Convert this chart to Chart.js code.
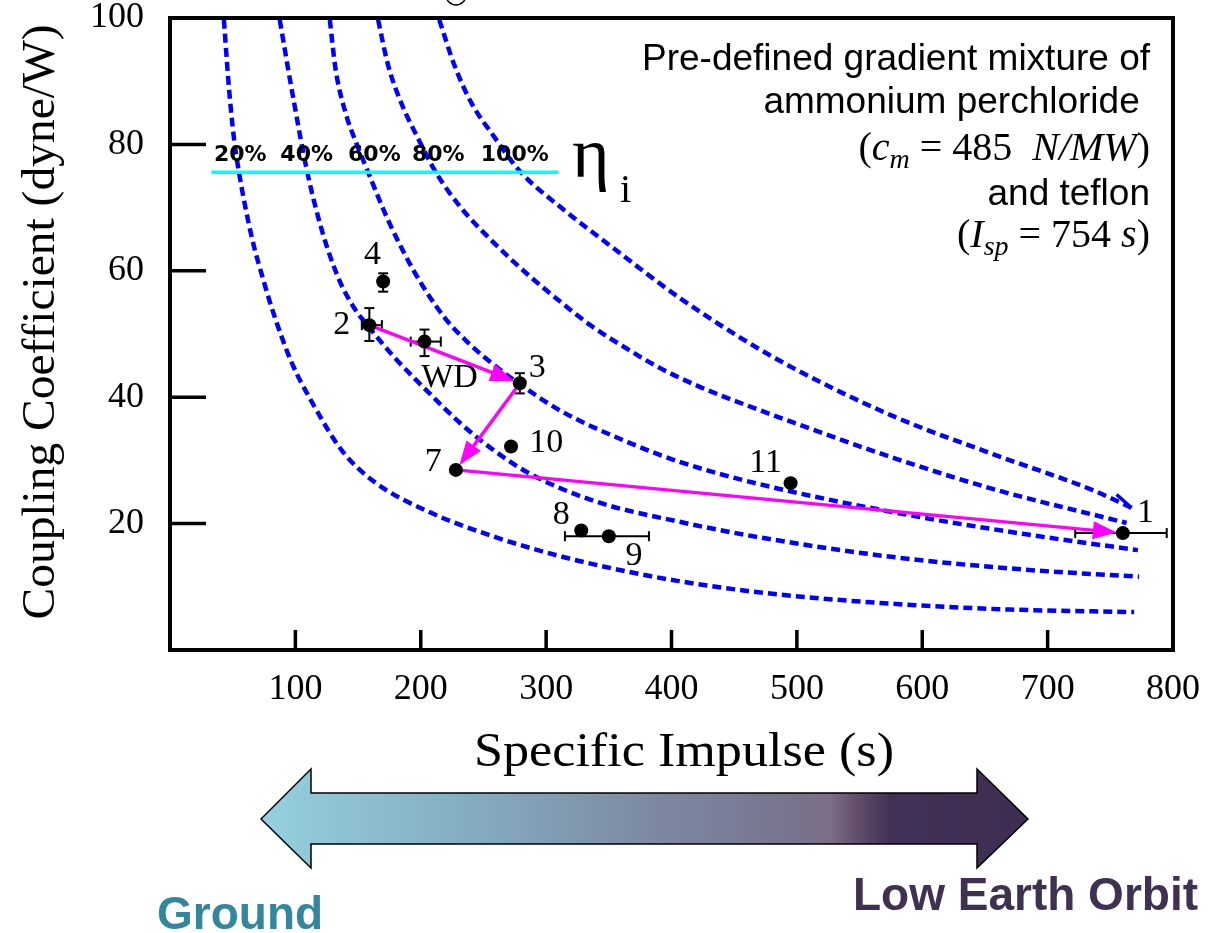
<!DOCTYPE html>
<html>
<head>
<meta charset="utf-8">
<script src="https://cdn.jsdelivr.net/npm/chart.js@4.4.1/dist/chart.umd.min.js"></script>
<style>
  html, body { margin: 0; padding: 0; background: #fff; }
  #wrap { width: 1213px; height: 933px; }
</style>
</head>
<body>
<div id="wrap"><canvas id="c" width="1213" height="933"></canvas></div>
<script>
// ---- measured thrusters: specific impulse (s) and coupling coefficient (dyne/W) ----
const pointLabels = ['1', '2', '3', '4', '7', '8', '9', '10', '11', 'WD'];
const pointIsp    = [760, 159, 279, 170, 228, 328, 350, 272, 495, 203];
const pointCm     = [18.5, 51.4, 42.2, 58.3, 28.5, 18.9, 18.0, 32.2, 26.4, 48.8];
const ispErrLow   = [722, 153, null, null, null, null, 315, null, null, 192];
const ispErrHigh  = [795, 169, null, null, null, null, 382, null, null, 216];
const cmErrLow    = [null, 48.9, 40.6, 56.7, null, null, null, null, null, 46.5];
const cmErrHigh   = [null, 54.1, 43.8, 59.6, null, null, null, null, null, 50.7];
const labelIsp    = [778, 137, 293, 161.5, 210, 312, 370, 300, 475, 223];
const labelCm     = [21.7, 51.4, 44.6, 62.5, 29.8, 21.4, 14.8, 32.8, 29.6, 43.0];
const pathOrder   = ['2', '3', '7', '1'];

// ---- constant-efficiency curves ----
const eta20Isp  = [43, 47, 51, 55, 65, 76, 83, 97, 113, 137, 163, 206, 259, 312, 365, 406, 471, 577, 670, 769];
const eta20Cm   = [99.7, 89.0, 81.0, 75.6, 65.5, 57.5, 53.0, 45.5, 39.3, 31.6, 26.6, 21.9, 17.9, 14.8, 12.4, 10.9, 9.1, 7.3, 6.4, 6.0];
const eta40Isp  = [87.5, 98.6, 109.5, 121, 134, 146, 159, 179, 206, 232, 259, 286, 338, 406, 471, 577, 683, 773];
const eta40Cm   = [99.7, 87.0, 75.6, 66.5, 59.0, 54.4, 51.0, 46.3, 40.8, 35.8, 31.5, 28.0, 23.6, 20.3, 17.8, 14.7, 12.7, 11.6];
const eta60Isp  = [127.5, 132, 140, 149, 158, 174, 195, 219, 239, 259, 278, 312, 365, 406, 471, 577, 683, 772];
const eta60Cm   = [99.7, 92.0, 85.0, 80.0, 75.6, 68.0, 59.8, 52.6, 48.4, 45.0, 42.2, 37.8, 32.9, 29.8, 26.2, 21.8, 18.3, 15.8];
const eta80Isp  = [166, 174, 185, 198, 212, 232, 259, 286, 312, 336, 365, 391, 423, 471, 497, 577, 656, 763];
const eta80Cm   = [99.7, 92.5, 86.3, 80.9, 75.6, 70.0, 64.3, 59.3, 55.0, 51.3, 47.6, 44.6, 41.6, 37.9, 36.0, 30.4, 25.5, 20.1];
const eta100Isp = [214.8, 226.7, 240.3, 258.6, 278.4, 311.9, 351.6, 377.9, 407.3, 455.1, 497.2, 576.8, 656.3, 735.9, 766.9];
const eta100Cm  = [99.7, 92.6, 86.6, 81.2, 75.9, 70.0, 63.9, 59.9, 55.6, 49.4, 44.6, 37.0, 31.0, 25.3, 22.5];

// efficiency scale line and its labels
const etaLineIsp  = [33, 310];
const etaLineCm   = [75.6, 75.6];
const etaLabels   = ['20%', '40%', '60%', '80%', '100%'];
const etaLabelIsp = [56, 109, 163, 214, 275];
const etaLabelCm  = 77.3;

// axis ticks
const xTickStep = 100, xMin = 0, xMax = 800;
const yTickStep = 20,  yMin = 0, yMax = 100;

const SERIF = '"Liberation Serif", "Times New Roman", serif';
const SANS  = '"Liberation Sans", Arial, sans-serif';

const xy = (xs, ys) => xs.map((x, i) => ({ x, y: ys[i] }));

const curve = (label, xs, ys) => ({
  type: 'line', label, data: xy(xs, ys),
  borderColor: '#0000ff', borderWidth: 4.5, borderDash: [9, 5], borderCapStyle: 'butt',
  pointRadius: 0, pointHoverRadius: 0, fill: false, cubicInterpolationMode: 'monotone'
});

function seg(ctx, x1, y1, x2, y2) {
  ctx.beginPath(); ctx.moveTo(x1, y1); ctx.lineTo(x2, y2); ctx.stroke();
}

// text run made of pieces with their own fonts, right-aligned
function drawRuns(ctx, runs, rightX, baseline) {
  let w = 0;
  runs.forEach(r => { ctx.font = r[1]; w += ctx.measureText(r[0]).width; });
  let x = rightX - w;
  ctx.textAlign = 'left';
  ctx.textBaseline = 'alphabetic';
  runs.forEach(r => {
    ctx.font = r[1];
    ctx.fillText(r[0], x, baseline + (r[2] || 0));
    x += ctx.measureText(r[0]).width;
  });
}

// text stretched horizontally to a given width, centred on (cx, cy)
function fitText(ctx, text, font, cx, cy, width, angle) {
  ctx.save();
  ctx.font = font;
  const sx = width / ctx.measureText(text).width;
  ctx.translate(cx, cy);
  ctx.rotate(angle || 0);
  ctx.scale(sx, 1);
  ctx.textAlign = 'center';
  ctx.textBaseline = 'middle';
  ctx.fillText(text, 0, 0);
  ctx.restore();
}

const decor = {
  id: 'decor',
  beforeDatasetDraw(chart, args) {
    if (args.index !== 0) return;
    const { ctx, scales: { x, y } } = chart;
    ctx.save();
    // error bars
    ctx.strokeStyle = '#000';
    ctx.lineWidth = 2;
    pointIsp.forEach((v, i) => {
      const px = x.getPixelForValue(v), py = y.getPixelForValue(pointCm[i]);
      if (ispErrLow[i] !== null) {
        const a = x.getPixelForValue(ispErrLow[i]), b = x.getPixelForValue(ispErrHigh[i]);
        seg(ctx, a, py, b, py); seg(ctx, a, py - 5, a, py + 5); seg(ctx, b, py - 5, b, py + 5);
      }
      if (cmErrLow[i] !== null) {
        const a = y.getPixelForValue(cmErrLow[i]), b = y.getPixelForValue(cmErrHigh[i]);
        seg(ctx, px, a, px, b); seg(ctx, px - 5, a, px + 5, a); seg(ctx, px - 5, b, px + 5, b);
      }
    });
    // magenta sequence arrows
    ctx.strokeStyle = '#ff00ff';
    ctx.fillStyle = '#ff00ff';
    ctx.lineWidth = 3.5;
    for (let k = 0; k < pathOrder.length - 1; k++) {
      const i = pointLabels.indexOf(pathOrder[k]), j = pointLabels.indexOf(pathOrder[k + 1]);
      const x1 = x.getPixelForValue(pointIsp[i]), y1 = y.getPixelForValue(pointCm[i]);
      const x2 = x.getPixelForValue(pointIsp[j]), y2 = y.getPixelForValue(pointCm[j]);
      const ang = Math.atan2(y2 - y1, x2 - x1);
      const len = Math.hypot(x2 - x1, y2 - y1);
      const s = k === 1 ? 7 : 0, e = 6, head = 24, half = 9;
      const sx = x1 + Math.cos(ang) * s, sy = y1 + Math.sin(ang) * s;
      const tx = x1 + Math.cos(ang) * (len - e), ty = y1 + Math.sin(ang) * (len - e);
      const bx = tx - Math.cos(ang) * head, by = ty - Math.sin(ang) * head;
      seg(ctx, sx, sy, bx + Math.cos(ang) * 4, by + Math.sin(ang) * 4);
      ctx.beginPath();
      ctx.moveTo(tx, ty);
      ctx.lineTo(bx - Math.sin(ang) * half, by + Math.cos(ang) * half);
      ctx.lineTo(bx + Math.sin(ang) * half, by - Math.cos(ang) * half);
      ctx.closePath();
      ctx.fill();
    }
    ctx.restore();
  },
  afterDatasetsDraw(chart) {
    const { ctx, chartArea: a, scales: { x, y } } = chart;
    ctx.save();
    // open barb at the end of the 100 % curve
    const n = eta100Isp.length;
    const ex = x.getPixelForValue(eta100Isp[n - 1]), ey = y.getPixelForValue(eta100Cm[n - 1]);
    const px0 = x.getPixelForValue(eta100Isp[n - 2]), py0 = y.getPixelForValue(eta100Cm[n - 2]);
    const back = Math.atan2(py0 - ey, px0 - ex) + 0.3;
    ctx.strokeStyle = '#0000ff'; ctx.lineWidth = 3.5;
    seg(ctx, ex, ey, ex + Math.cos(back) * 20, ey + Math.sin(back) * 20);

    // frame
    ctx.strokeStyle = '#000';
    ctx.lineWidth = 4;
    ctx.strokeRect(a.left, a.top, a.right - a.left, a.bottom - a.top);
    // inward tick marks
    ctx.lineWidth = 3.5;
    y.ticks.forEach(t => {
      if (t.value > yMin && t.value < yMax) {
        const py = y.getPixelForValue(t.value);
        seg(ctx, a.left, py, a.left + 36, py);
      }
    });
    x.ticks.forEach(t => {
      if (t.value > xMin && t.value < xMax) {
        const px = x.getPixelForValue(t.value);
        seg(ctx, px, a.bottom, px, a.bottom - 20);
      }
    });

    // point labels
    ctx.fillStyle = '#000';
    ctx.font = '34px ' + SERIF;
    ctx.textAlign = 'center';
    ctx.textBaseline = 'middle';
    pointLabels.forEach((t, i) => {
      ctx.fillText(t, x.getPixelForValue(labelIsp[i]), y.getPixelForValue(labelCm[i]));
    });

    // efficiency labels above the cyan line
    ctx.font = 'bold 22px "DejaVu Sans", sans-serif';
    ctx.textBaseline = 'alphabetic';
    etaLabels.forEach((t, i) => {
      ctx.fillText(t, x.getPixelForValue(etaLabelIsp[i]), y.getPixelForValue(etaLabelCm));
    });

    // eta_i symbol
    ctx.textAlign = 'left';
    ctx.font = '72px ' + SERIF;
    ctx.fillText('η', 572, 177);
    ctx.font = '40px ' + SERIF;
    ctx.fillText('i', 620, 202);

    // small circle at the top edge
    ctx.lineWidth = 1.5;
    ctx.beginPath(); ctx.arc(456, -5, 10, 0, Math.PI); ctx.stroke();

    // note in the upper right corner
    ctx.textAlign = 'right';
    ctx.font = '37px ' + SANS;
    ctx.fillText('Pre-defined gradient mixture of', 1150, 70);
    ctx.fillText('ammonium perchloride ', 1150, 113);
    ctx.fillText('and teflon', 1150, 205);
    const up = '40px ' + SERIF, it = 'italic 40px ' + SERIF, sub = 'italic 28px ' + SERIF;
    drawRuns(ctx, [['(', up], ['c', it], ['m', sub, 8], [' = ', up], ['485', up], ['  ', up],
                   ['N/MW', it], [')', up]], 1150, 160);
    drawRuns(ctx, [['(', up], ['I', it], ['sp', sub, 8], [' = ', up], ['754', up], [' ', up],
                   ['s', it], [')', up]], 1150, 247);

    // axis titles
    fitText(ctx, 'Specific Impulse (s)', '48px ' + SERIF, 684, 753, 420, 0);
    fitText(ctx, 'Coupling Coefficient (dyne/W)', '47px ' + SERIF, 42, 322, 595, -Math.PI / 2);

    ctx.restore();
  },
  afterDraw(chart) {
    const { ctx } = chart;
    ctx.save();
    // gradient double arrow below the axis
    const L = 261, R = 1028, hl = 311, hr = 977, cy = 819, bt = 793, bb = 844, ht = 769, hb = 868;
    const g = ctx.createLinearGradient(L, 0, R, 0);
    g.addColorStop(0.00, 'rgb(150,208,224)');
    g.addColorStop(0.064, 'rgb(145,200,216)');
    g.addColorStop(0.276, 'rgb(132,172,192)');
    g.addColorStop(0.52, 'rgb(124,136,160)');
    g.addColorStop(0.69, 'rgb(120,116,142)');
    g.addColorStop(0.742, 'rgb(126,110,136)');
    g.addColorStop(0.777, 'rgb(98,78,108)');
    g.addColorStop(0.82, 'rgb(66,49,86)');
    g.addColorStop(1.00, 'rgb(63,46,82)');
    ctx.beginPath();
    ctx.moveTo(L, cy); ctx.lineTo(hl, ht); ctx.lineTo(hl, bt); ctx.lineTo(hr, bt); ctx.lineTo(hr, ht);
    ctx.lineTo(R, cy); ctx.lineTo(hr, hb); ctx.lineTo(hr, bb); ctx.lineTo(hl, bb); ctx.lineTo(hl, hb);
    ctx.closePath();
    ctx.fillStyle = g;
    ctx.fill();
    ctx.strokeStyle = '#000';
    ctx.lineWidth = 1.5;
    ctx.stroke();

    ctx.font = 'bold 46px ' + SANS;
    ctx.textBaseline = 'alphabetic';
    ctx.textAlign = 'left';
    ctx.fillStyle = '#32879e';
    ctx.fillText('Ground', 157, 929);
    ctx.textAlign = 'right';
    ctx.fillStyle = '#403052';
    ctx.fillText('Low Earth Orbit', 1198, 910);
    ctx.restore();
  }
};

Chart.defaults.font.family = SERIF;
Chart.defaults.color = '#000';

new Chart(document.getElementById('c'), {
  type: 'scatter',
  data: {
    datasets: [
      {
        type: 'scatter', label: 'Thrusters', data: xy(pointIsp, pointCm),
        backgroundColor: '#000', borderColor: '#000', borderWidth: 0,
        pointRadius: 7, pointHoverRadius: 7
      },
      {
        type: 'line', label: 'ηi', data: xy(etaLineIsp, etaLineCm),
        borderColor: '#00ffff', borderWidth: 3.5, pointRadius: 0, pointHoverRadius: 0, fill: false
      },
      curve('20%', eta20Isp, eta20Cm),
      curve('40%', eta40Isp, eta40Cm),
      curve('60%', eta60Isp, eta60Cm),
      curve('80%', eta80Isp, eta80Cm),
      curve('100%', eta100Isp, eta100Cm)
    ]
  },
  options: {
    responsive: false,
    animation: false,
    events: [],
    layout: { padding: { top: 18, right: 40, left: 0, bottom: 0 } },
    plugins: { legend: { display: false }, tooltip: { enabled: false } },
    scales: {
      x: {
        type: 'linear', min: xMin, max: xMax,
        grid: { display: false, drawTicks: false },
        border: { display: false },
        ticks: {
          stepSize: xTickStep, autoSkip: false, maxRotation: 0, padding: 18,
          font: { family: SERIF, size: 36 }, color: '#000',
          callback: v => (v === 0 ? '' : v)
        },
        title: { display: false, text: 'Specific Impulse (s)' },
        afterFit(s) { s.height = 283; s.paddingLeft = 0; s.paddingRight = 0; }
      },
      y: {
        type: 'linear', min: yMin, max: yMax,
        grid: { display: false, drawTicks: false },
        border: { display: false },
        ticks: {
          stepSize: yTickStep, padding: 26,
          font: { family: SERIF, size: 36 }, color: '#000',
          callback: v => (v === 0 ? '' : v)
        },
        title: { display: false, text: 'Coupling Coefficient (dyne/W)' },
        afterFit(s) { s.width = 170; s.paddingTop = 0; s.paddingBottom = 0; }
      }
    }
  },
  plugins: [decor]
});
</script>
</body>
</html>
